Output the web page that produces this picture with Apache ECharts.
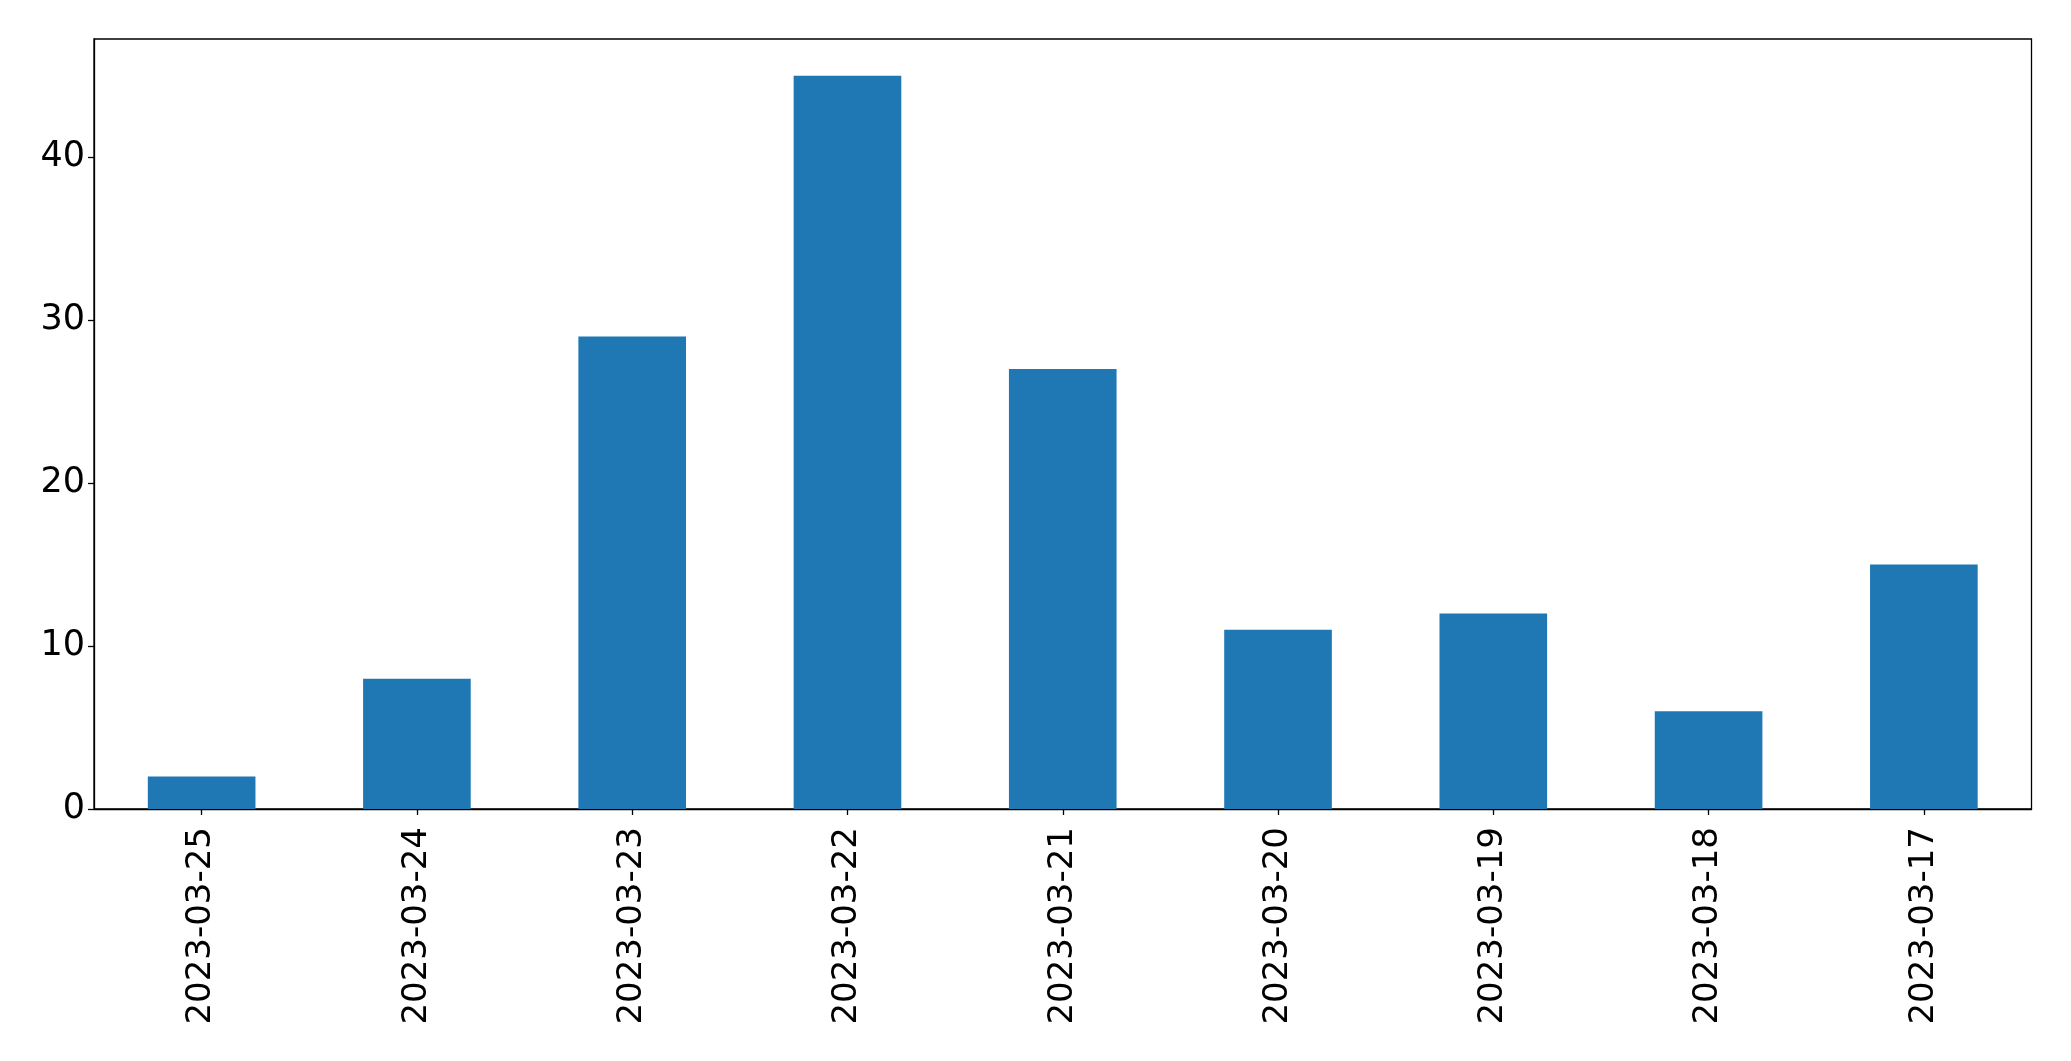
<!DOCTYPE html>
<html>
<head>
<meta charset="utf-8">
<script src="https://cdn.jsdelivr.net/npm/echarts@6/dist/echarts.min.js"></script>
<style>
html,body{margin:0;padding:0;background:#fff;}
#chart{width:2071px;height:1061px;}
</style>
</head>
<body>
<div id="chart"></div>
<script>
const categories = ['2023-03-25','2023-03-24','2023-03-23','2023-03-22','2023-03-21','2023-03-20','2023-03-19','2023-03-18','2023-03-17'];
const values = [2, 8, 29, 45, 27, 11, 12, 6, 15];
const yTicks = [0, 10, 20, 30, 40];

const chart = echarts.init(document.getElementById('chart'), null, {renderer: 'canvas'});
const font = 'DejaVu Sans';
chart.setOption({
  animation: false,
  backgroundColor: '#fff',
  grid: {left: 94, right: 39.5, top: 39, bottom: 252, show: true, borderColor: '#000', borderWidth: 1.3, backgroundColor: 'transparent'},
  xAxis: {
    type: 'category',
    data: categories,
    boundaryGap: true,
    axisLine: {show: true, lineStyle: {color: '#000', width: 1.3}},
    axisTick: {show: true, alignWithLabel: true, length: 6, lineStyle: {color: '#000', width: 1.3}},
    axisLabel: {rotate: 90, color: '#000', fontFamily: font, fontSize: 34, margin: 18, interval: 0},
    splitLine: {show: false}
  },
  yAxis: {
    type: 'value',
    min: 0,
    max: 47.25,
    interval: 10,
    axisLine: {show: true, lineStyle: {color: '#000', width: 1.3}},
    axisTick: {show: true, length: 6, lineStyle: {color: '#000', width: 1.3}, customValues: yTicks},
    axisLabel: {color: '#000', fontFamily: font, fontSize: 35, margin: 9, customValues: yTicks},
    splitLine: {show: false}
  },
  series: [{
    type: 'bar',
    data: values,
    barWidth: '50%',
    itemStyle: {color: '#1f77b4'}
  }]
});
</script>
</body>
</html>
